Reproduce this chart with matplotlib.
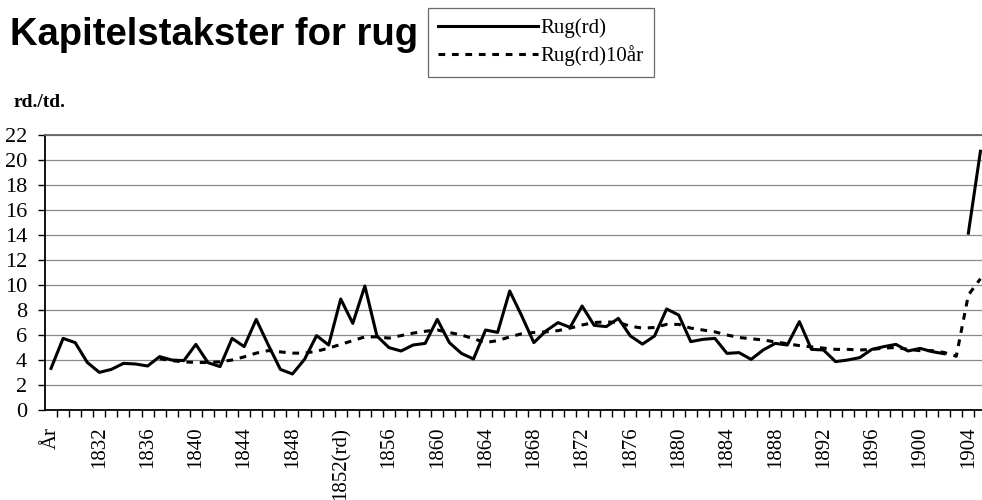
import matplotlib.pyplot as plt
import numpy as np

# years on the category axis, first category is labelled "År"
years = np.arange(1828, 1906)
tick_labels = ['År', '1832', '1836', '1840', '1844', '1848', '1852(rd)', '1856',
               '1860', '1864', '1868', '1872', '1876', '1880', '1884', '1888',
               '1892', '1896', '1900', '1904']

rug = [3.33, 5.73, 5.39, 3.81, 3.01, 3.25, 3.73, 3.68, 3.52, 4.27,
       4.0, 3.95, 5.25, 3.79, 3.47, 5.73, 5.07, 7.25, 5.2, 3.25,
       2.88, 4.05, 5.95, 5.2, 8.88, 6.93, 9.92, 5.92, 4.99, 4.72,
       5.2, 5.33, 7.25, 5.39, 4.53, 4.08, 6.4, 6.21, 9.52, 7.52,
       5.39, 6.32, 6.99, 6.61, 8.32, 6.77, 6.67, 7.33, 5.92, 5.27,
       5.92, 8.08, 7.6, 5.47, 5.65, 5.73, 4.53, 4.59, 4.05, 4.8,
       5.33, 5.2, 7.07, 4.85, 4.8, 3.87, 4.0, 4.19, 4.85, 5.07,
       5.25, 4.72, 4.93, 4.67, 4.5, np.nan, 14.15, 20.7]

rug10 = [np.nan] * 9 + [
       4.1, 3.95, 3.85, 3.8, 3.8, 3.85, 4.0, 4.25, 4.55, 4.75,
       4.65, 4.55, 4.55, 4.7, 4.95, 5.25, 5.55, 5.85, 5.85, 5.75,
       5.95, 6.15, 6.3, 6.4, 6.2, 6.0, 5.7, 5.4, 5.55, 5.85,
       6.1, 6.2, 6.25, 6.35, 6.55, 6.8, 7.0, 7.05, 7.0, 6.7,
       6.55, 6.6, 6.85, 6.85, 6.55, 6.4, 6.25, 6.0, 5.8, 5.7,
       5.6, 5.45, 5.3, 5.15, 5.05, 4.95, 4.85, 4.85, 4.8, 4.85,
       4.95, 5.0, 4.85, 4.75, 4.75, 4.6, 4.3, 9.2, 10.5]

serif = ['Liberation Serif', 'DejaVu Serif']

fig = plt.figure(figsize=(9.82, 5.0), dpi=100)
ax = fig.add_axes([45 / 982, 0.18, 1 - 45 / 982, 0.55])

x = np.arange(len(years))
l1, = ax.plot(x, rug, '-', color='black', lw=2.2, label='Rug(rd)')
l2, = ax.plot(x, rug10, color='black', lw=2.2, linestyle=(0, (2.2, 2.2)),
              label='Rug(rd)10år')

ax.set_ylim(0, 22)
ax.set_yticks(np.arange(0, 23, 2))
ax.set_xlim(-0.5, 77.13)

# labels every 4 categories, tick marks between categories
ax.set_xticks(x[::4])
ax.set_xticklabels(tick_labels, rotation=90, family=serif, fontsize=15)
ax.set_xticks(x[:-1] + 0.5, minor=True)
ax.tick_params(axis='x', which='major', length=0, pad=12)
ax.tick_params(axis='x', which='minor', length=5, width=1, direction='out')
ax.tick_params(axis='y', length=5, width=1, direction='out', pad=8, labelsize=16)
for t in ax.get_yticklabels():
    t.set_family(serif)

ax.grid(axis='y', color='#8a8a8a', lw=0.9)
ax.set_axisbelow(True)
ax.spines['right'].set_visible(False)
ax.spines['top'].set_color('#666666')
ax.spines['top'].set_linewidth(1.3)
ax.spines['left'].set_linewidth(1.3)
ax.spines['bottom'].set_linewidth(1.3)

fig.text(10 / 982, 1 - 45 / 500, 'Kapitelstakster for rug', family='Liberation Sans',
         weight='bold', fontsize=27.5, va='baseline', ha='left')
fig.text(14 / 982, 1 - 107 / 500, 'rd./td.', family=serif, weight='bold',
         fontsize=14, va='baseline', ha='left')

leg = fig.legend(handles=[l1, l2], loc='upper left', bbox_to_anchor=(428 / 982, 0.984),
                 prop={'family': serif, 'size': 15}, handlelength=4.8,
                 handletextpad=0.1, fancybox=False, borderpad=0.5,
                 labelspacing=0.35, borderaxespad=0)
leg.get_frame().set_edgecolor('#444444')
leg.get_frame().set_linewidth(0.9)

fig.savefig('out.png', dpi=100)
